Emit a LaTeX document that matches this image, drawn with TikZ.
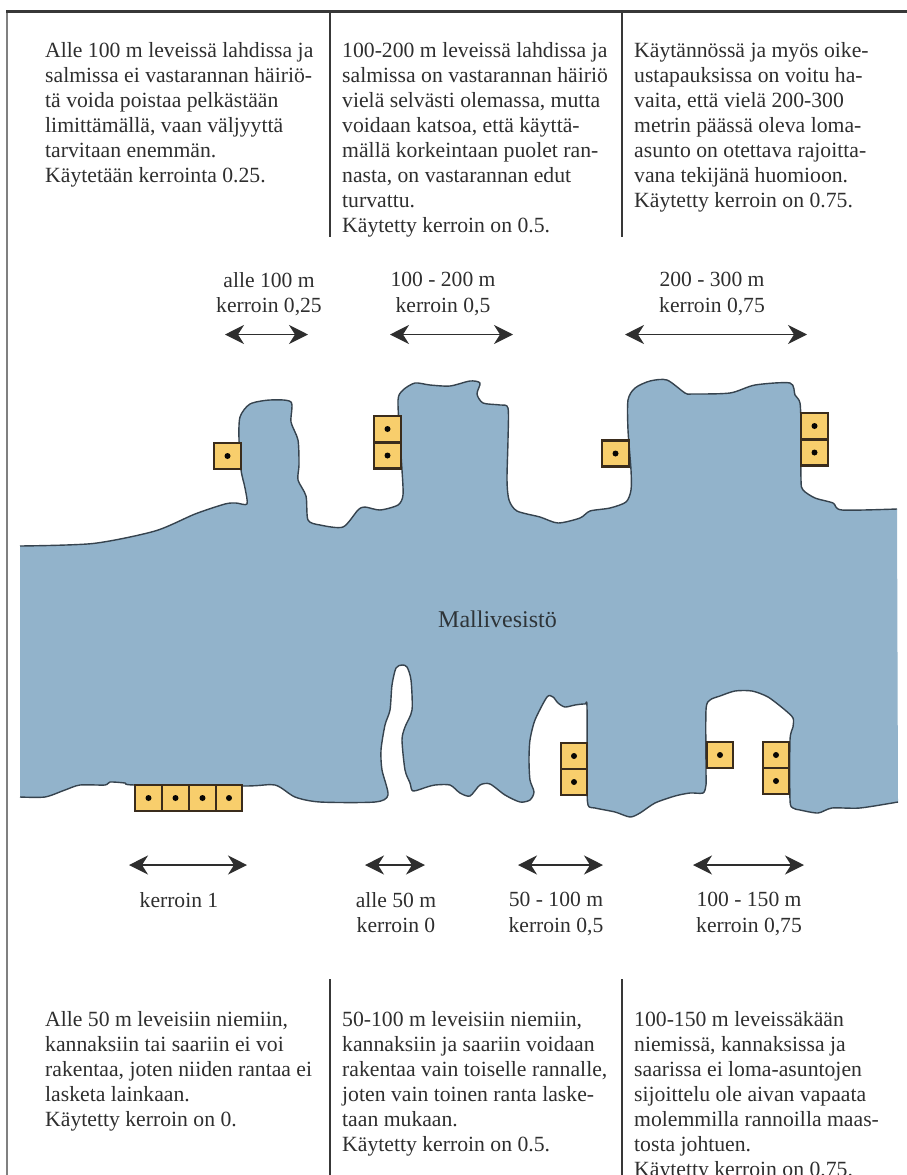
\documentclass[tikz,border=0pt]{standalone}
\usepackage{fontspec}
\setmainfont{Liberation Serif}
\usetikzlibrary{arrows.meta}
\definecolor{water}{HTML}{92B3CB}
\definecolor{coast}{HTML}{36434E}
\definecolor{hutfill}{HTML}{F8CE6C}
\definecolor{hutline}{HTML}{3A2C1C}
\definecolor{ink}{HTML}{2E2E2E}
\tikzset{
  txt/.style={anchor=north west,inner sep=0pt,align=left,text=ink,font=\fontsize{21.7}{25}\selectfont},
  lbl/.style={inner sep=0pt,align=center,text=ink,anchor=north,font=\fontsize{21.6}{25.5}\selectfont},
  hut/.style={rectangle,inner sep=0pt,minimum width=26.5pt,minimum height=26pt,draw=hutline,line width=2.2pt,fill=hutfill,
    path picture={\fill[black!85!hutline] (path picture bounding box.center) circle (3pt);}},
  dim/.style={draw=ink,line width=1.5pt,{Stealth[length=19pt,width=19pt,inset=6pt]}-{Stealth[length=19pt,width=19pt,inset=6pt]}},
  rule/.style={draw=black!78,line width=2.5pt},
  shore/.style={draw=coast,line width=1.4pt,line join=round}
}
\def\topcoast{plot[smooth,tension=0.45] coordinates {
(20,546)(93,543.5)(155,531)(195,514)(225,504)(236,503)(247,504)(245,488)(241,470)(239,440)(240,417)(250,404)(270,400)(291,402)(291,422)(298,440)(299,465)(298,480)(306,496)(308,520)(320,525)(343,527)(358,510)(365,507)(380,510)(398,505)(403,495)(402,470)(400,440)(398,400)(403,390)(415,383)(430,385)(450,386)(470,381)(480,383)(477,394)(483,403)(500,405)(508,408)(508,440)(507,480)(509,500)(517,511)(540,517)(558,523)(580,518)(590,511)(610,508)(626,502)(631,490)(631,470)(628,430)(628,400)(635,388)(650,381)(667,380)(685,393)(692,394)(730,393)(755,385)(790,383)(795,395)(800,403)(801,430)(801,480)(803,490)(815,498)(833,503)(842,510)(897,509)}}
\def\bottomcoast{plot[smooth,tension=0.45] coordinates {
(898,802)(860,808)(832,808)(818,813)(800,810)(793,808)(790,800)(790,740)(793,727)(793,718)(785,710)(768,697)(752,691)(735,691)(720,696)(710,700)(706,710)(706,770)(706,785)(703,793)(690,793)(675,796)(655,803)(640,813)(630,817)(615,812)(595,808)(588,805)(587,780)(587,707)(585,704)(575,705)(565,707)(558,703)(553,697)(547,697)(535,720)(530,740)(529,760)(530,780)(534,792)(530,800)(520,802)(505,795)(490,784)(480,785)(470,796)(460,793)(450,785)(435,785)(427,787)(413,791)(410,783)(405,770)(402,740)(405,727)(412,710)(411,680)(407,667)(402,665)(396,668)(392,685)(390,710)(385,725)(381,750)(382,770)(388,795)(375,802)(320,802)(295,797)(275,785)(245,786)(135,785)(125,783)(110,782)(105,785)(80,785)(65,790)(45,797)(20,797)}}
\edef\waterfill{\noexpand\fill[water] \unexpanded\expandafter{\topcoast} -- \unexpanded\expandafter{\bottomcoast} -- cycle;}
\begin{document}
\begin{tikzpicture}[x=1pt,y=-1pt]
\useasboundingbox (0,0) rectangle (907,1175);
% frame
\coordinate (tl) at (6,11); \coordinate (tr) at (907,11); \coordinate (bl) at (7,1175);
\coordinate (a1) at (330,11); \coordinate (a2) at (330,237);
\coordinate (b1) at (622,11); \coordinate (b2) at (622,237);
\coordinate (c1) at (330,979); \coordinate (c2) at (330,1175);
\coordinate (d1) at (622,979); \coordinate (d2) at (622,1175);
\draw[draw=black!50,line width=2.2pt] (7,11) -- (bl);
\draw[rule,line width=3pt] (tl) -- (tr);
\draw[rule] (a1) -- (a2); \draw[rule] (b1) -- (b2);
\draw[rule] (c1) -- (c2); \draw[rule] (d1) -- (d2);
% water
\waterfill
\draw[shore] \topcoast;
\draw[shore] \bottomcoast;
\node[text=ink!70!water!60!black,inner sep=0pt,anchor=base,font=\fontsize{24}{28}\selectfont] (lake) at (497.5,627) {Mallivesistö};
% huts
\node[hut] (h1) at (227.5,456) {};
\node[hut] (h2) at (387.5,429) {};
\node[hut] (h3) at (387.5,455.5) {};
\node[hut] (h4) at (615.5,453.5) {};
\node[hut] (h5) at (814.5,426) {};
\node[hut] (h6) at (814.5,452.5) {};
\node[hut] (h7) at (148.5,798) {};
\node[hut] (h8) at (175.5,798) {};
\node[hut] (h9) at (202.5,798) {};
\node[hut] (h10) at (229,798) {};
\node[hut] (h11) at (574,756) {};
\node[hut] (h12) at (574,782) {};
\node[hut] (h13) at (720,755) {};
\node[hut] (h14) at (776,755) {};
\node[hut] (h15) at (776,781) {};
% arrows
\coordinate (t1a) at (225,334.5); \coordinate (t1b) at (308,334.5);
\coordinate (t2a) at (390,334.5); \coordinate (t2b) at (513,334.5);
\coordinate (t3a) at (625,334.5); \coordinate (t3b) at (807,334.5);
\coordinate (u1a) at (129,865); \coordinate (u1b) at (247,865);
\coordinate (u2a) at (365,865); \coordinate (u2b) at (425,865);
\coordinate (u3a) at (518,865); \coordinate (u3b) at (603,865);
\coordinate (u4a) at (693,865); \coordinate (u4b) at (804,865);
\draw[dim] (t1a) -- (t1b); \draw[dim] (t2a) -- (t2b); \draw[dim] (t3a) -- (t3b);
\draw[dim] (u1a) -- (u1b); \draw[dim] (u2a) -- (u2b); \draw[dim] (u3a) -- (u3b); \draw[dim] (u4a) -- (u4b);
% labels
\node[lbl] (l1) at (269,272.3) {alle 100 m\\kerroin 0,25};
\node[lbl] (l2) at (443,272.3) {100 - 200 m\\kerroin 0,5};
\node[lbl] (l3) at (712,272.3) {200 - 300 m\\kerroin 0,75};
\node[lbl] (l4) at (179,892.3) {kerroin 1};
\node[lbl] (l5) at (396,892.3) {alle 50 m\\kerroin 0};
\node[lbl] (l6) at (556,892.3) {50 - 100 m\\kerroin 0,5};
\node[lbl] (l7) at (749,892.3) {100 - 150 m\\kerroin 0,75};
% text blocks
\node[txt] (p1) at (45,42.3) {Alle 100 m leveissä lahdissa ja\\salmissa ei vastarannan häiriö-\\tä voida poistaa pelkästään\\limittämällä, vaan väljyyttä\\tarvitaan enemmän.\\Käytetään kerrointa 0.25.};
\node[txt] (p2) at (342,42.3) {100-200 m leveissä lahdissa ja\\salmissa on vastarannan häiriö\\vielä selvästi olemassa, mutta\\voidaan katsoa, että käyttä-\\mällä korkeintaan puolet ran-\\nasta, on vastarannan edut\\turvattu.\\Käytetty kerroin on 0.5.};
\node[txt] (p3) at (634,42.3) {Käytännössä ja myös oike-\\ustapauksissa on voitu ha-\\vaita, että vielä 200-300\\metrin päässä oleva loma-\\asunto on otettava rajoitta-\\vana tekijänä huomioon.\\Käytetty kerroin on 0.75.};
\node[txt] (p4) at (45,1011.3) {Alle 50 m leveisiin niemiin,\\kannaksiin tai saariin ei voi\\rakentaa, joten niiden rantaa ei\\lasketa lainkaan.\\Käytetty kerroin on 0.};
\node[txt] (p5) at (342,1011.3) {50-100 m leveisiin niemiin,\\kannaksiin ja saariin voidaan\\rakentaa vain toiselle rannalle,\\joten vain toinen ranta laske-\\taan mukaan.\\Käytetty kerroin on 0.5.};
\node[txt] (p6) at (634,1011.3) {100-150 m leveissäkään\\niemissä, kannaksissa ja\\saarissa ei loma-asuntojen\\sijoittelu ole aivan vapaata\\molemmilla rannoilla maas-\\tosta johtuen.\\Käytetty kerroin on 0.75.};
\end{tikzpicture}
\end{document}
